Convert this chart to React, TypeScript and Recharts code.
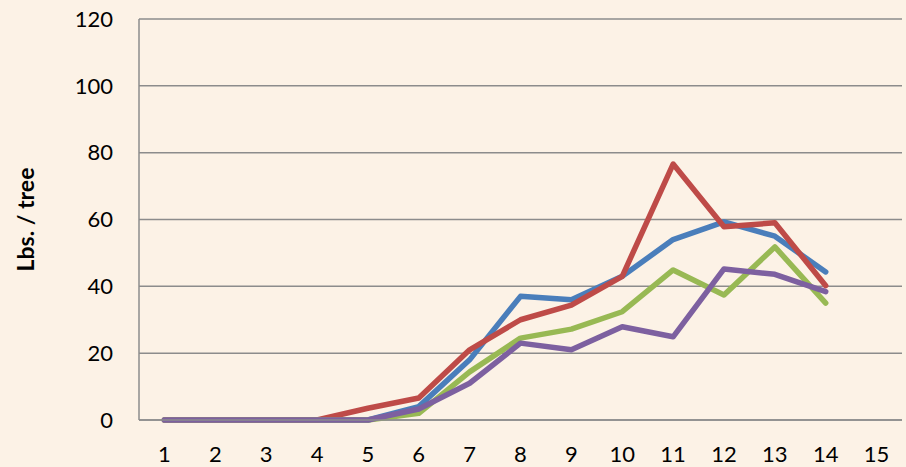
import React from 'react';
import { LineChart, Line, XAxis, YAxis, CartesianGrid, Label } from 'recharts';

const years = ['1', '2', '3', '4', '5', '6', '7', '8', '9', '10', '11', '12', '13', '14', '15'];
const blueSeries = [0, 0, 0, 0, 0, 4, 18, 37, 36, 43, 54, 59.3, 55, 44.3, null];
const redSeries = [0, 0, 0, 0, 3.5, 6.6, 21, 30, 34.4, 43, 76.6, 57.8, 59, 40.2, null];
const greenSeries = [0, 0, 0, 0, 0, 2, 14.4, 24.5, 27.2, 32.4, 44.9, 37.4, 51.8, 35, null];
const purpleSeries = [0, 0, 0, 0, 0, 3.3, 11, 23, 21, 27.9, 24.9, 45.2, 43.6, 38.4, null];
const yTicks = [0, 20, 40, 60, 80, 100, 120];

const data = years.map((year, i) => ({
  year,
  a: blueSeries[i],
  b: redSeries[i],
  c: greenSeries[i],
  d: purpleSeries[i]
}));

const font = 'Lato, "Open Sans", sans-serif';
const tickStyle = { fill: '#000', fontSize: 22, fontFamily: font };

const App = () => {
  return <div style={{
    position: 'fixed',
    left: 0,
    top: 0,
    width: 906,
    height: 467,
    background: '#FCF2E6'
  }}>
      <LineChart width={906} height={467} data={data} margin={{
      top: 19,
      right: 4,
      left: 0,
      bottom: 0
    }}>
        <CartesianGrid vertical={false} stroke="#8c8c8c" strokeWidth={1.5} />
        <XAxis dataKey="year" height={47} padding={{
        left: 25.4,
        right: 25.4
      }} axisLine={{
        stroke: '#8c8c8c',
        strokeWidth: 1.5
      }} tickLine={false} tickMargin={20} tick={tickStyle} interval={0} />
        <YAxis width={139} domain={[0, 120]} ticks={yTicks} axisLine={{
        stroke: '#8c8c8c',
        strokeWidth: 1.5
      }} tickLine={false} tickMargin={20} tick={tickStyle}>
          <Label value="Lbs. / tree" angle={-90} position="insideLeft" offset={26} style={{
          textAnchor: 'middle',
          fontSize: 23,
          fontWeight: 'bold',
          fill: '#000',
          fontFamily: font
        }} />
        </YAxis>
        <Line dataKey="a" stroke="#4A7EBB" strokeWidth={5.5} dot={false} isAnimationActive={false} strokeLinecap="round" strokeLinejoin="round" />
        <Line dataKey="b" stroke="#BE4B48" strokeWidth={5.5} dot={false} isAnimationActive={false} strokeLinecap="round" strokeLinejoin="round" />
        <Line dataKey="c" stroke="#98B954" strokeWidth={5.5} dot={false} isAnimationActive={false} strokeLinecap="round" strokeLinejoin="round" />
        <Line dataKey="d" stroke="#7D60A0" strokeWidth={5.5} dot={false} isAnimationActive={false} strokeLinecap="round" strokeLinejoin="round" />
      </LineChart>
    </div>;
};

export default App;
